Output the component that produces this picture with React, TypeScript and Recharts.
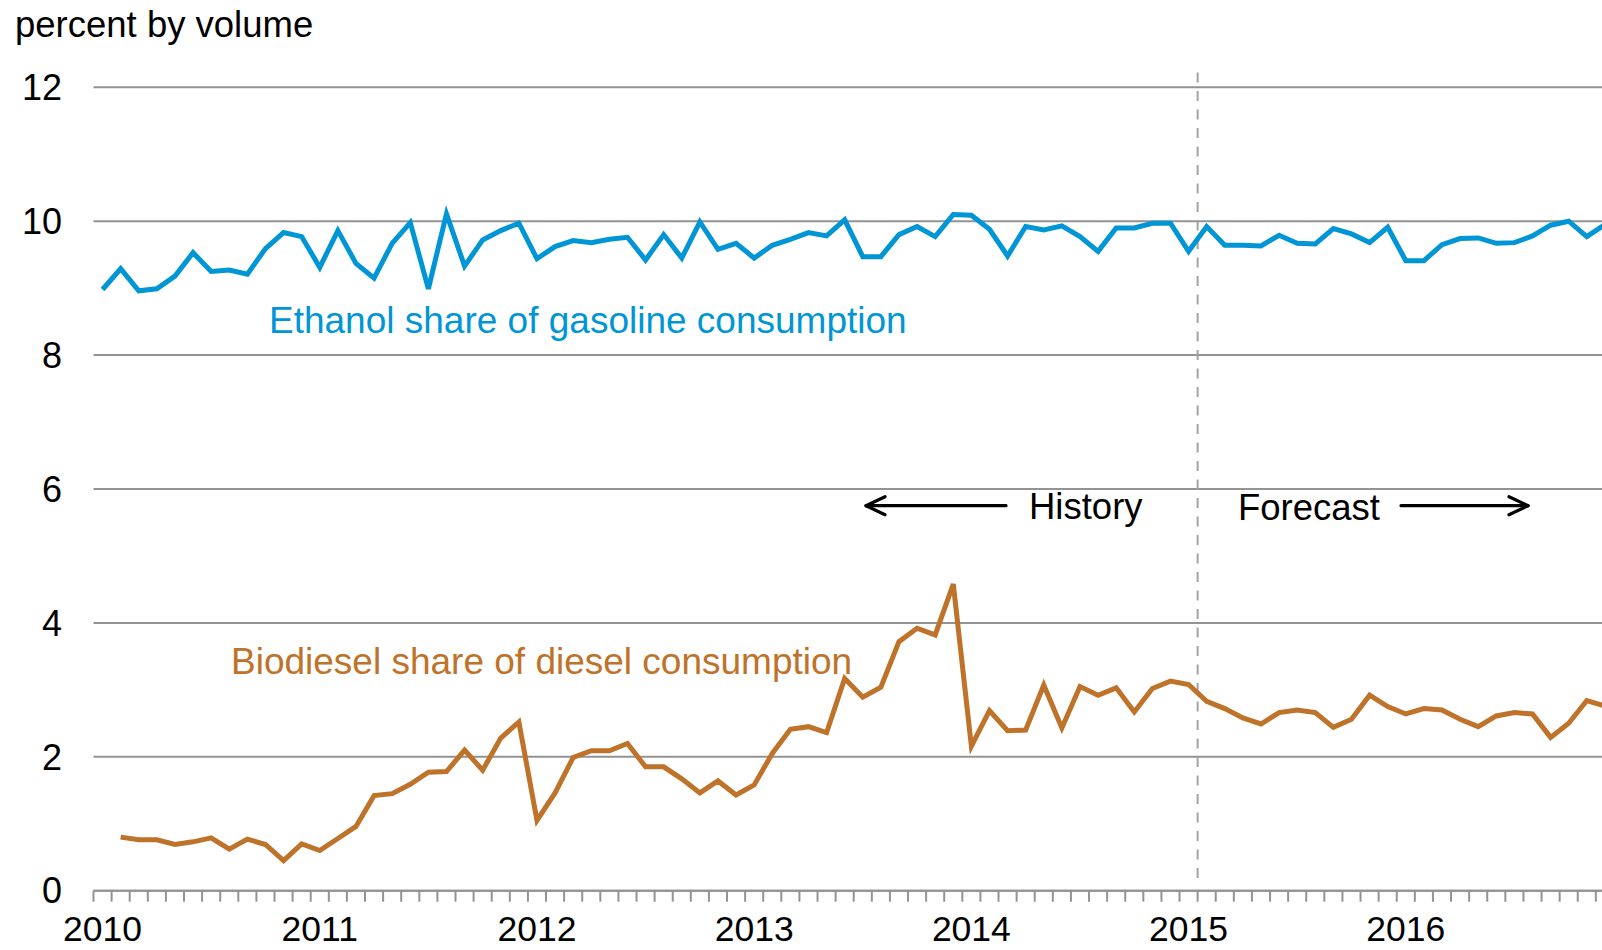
import React from 'react';
import { LineChart, Line, XAxis, YAxis, CartesianGrid, ReferenceLine, Customized } from 'recharts';

const YEARS = [2010, 2011, 2012, 2013, 2014, 2015, 2016];

const ETHANOL = [
  8.98, 9.29, 8.96, 8.99, 9.18, 9.53, 9.25, 9.27, 9.21, 9.59, 9.83, 9.77,
  9.31, 9.86, 9.37, 9.15, 9.67, 9.98, 8.99, 10.11, 9.33, 9.72, 9.86, 9.97,
  9.44, 9.62, 9.71, 9.68, 9.73, 9.76, 9.42, 9.8, 9.45, 9.99, 9.58, 9.67,
  9.45, 9.64, 9.73, 9.83, 9.78, 10.02, 9.47, 9.47, 9.8, 9.92, 9.77, 10.1,
  10.09, 9.88, 9.48, 9.92, 9.87, 9.93, 9.77, 9.55, 9.9, 9.9, 9.97, 9.97,
  9.55, 9.92, 9.64, 9.64, 9.63, 9.79, 9.67, 9.66, 9.89, 9.81, 9.68, 9.91,
  9.41, 9.41, 9.65, 9.74, 9.75, 9.67, 9.68, 9.78, 9.94, 10.0, 9.77, 9.95,
];

const BIODIESEL = [
  null, 0.8, 0.76, 0.76, 0.69, 0.73, 0.79, 0.62, 0.77, 0.69, 0.45, 0.7,
  0.6, 0.78, 0.96, 1.42, 1.45, 1.59, 1.77, 1.78, 2.1, 1.8, 2.28, 2.52,
  1.05, 1.46, 1.99, 2.09, 2.09, 2.2, 1.85, 1.85, 1.67, 1.46, 1.64, 1.43,
  1.58, 2.05, 2.41, 2.45, 2.36, 3.17, 2.89, 3.04, 3.72, 3.92, 3.82, 4.58,
  2.16, 2.69, 2.39, 2.4, 3.07, 2.43, 3.05, 2.92, 3.03, 2.67, 3.02, 3.13,
  3.08, 2.83, 2.72, 2.58, 2.49, 2.66, 2.7, 2.66, 2.44, 2.56, 2.92, 2.75,
  2.64, 2.72, 2.7, 2.56, 2.45, 2.61, 2.66, 2.64, 2.29, 2.5, 2.84, 2.76,
];

const Y_TICKS = [0, 2, 4, 6, 8, 10, 12];
const FORECAST_START = 61; // month boundary where the dashed divider sits

const CHART_W = 1602;
const CHART_H = 950;
const PLOT_LEFT = 93.5;
const PLOT_TOP = 87.3;
const X_AXIS_H = 59.3;
const X_MAX = 83.34;
const MONTH_PX = (CHART_W - PLOT_LEFT) / X_MAX;

const FONT = '"Liberation Sans", Arial, Helvetica, sans-serif';
const BLUE = '#0096D6';
const BROWN = '#BF7229';
const GRID = '#939393';

const X_TICKS = ETHANOL.map((_, i) => i);

const data = ETHANOL.map((v, i) => ({
  x: i + 0.5,
  ethanol: v,
  biodiesel: BIODIESEL[i],
}));

const YearTick = (props: any) => {
  const { x, y, payload } = props;
  const v = payload.value;
  if (v % 12 !== 0) return <g />;
  const year = YEARS[v / 12];
  return (
    <text x={x + MONTH_PX / 2} y={y + 39} textAnchor="middle" fontSize={35.5} fontFamily={FONT} fill="#000">
      {year}
    </text>
  );
};

const Annotations = () => (
  <g fontFamily={FONT}>
    <text x={15} y={37} fontSize={36.5} fill="#000">percent by volume</text>
    <text x={269} y={333} fontSize={37} fill={BLUE}>Ethanol share of gasoline consumption</text>
    <text x={231} y={674} fontSize={37} fill={BROWN}>Biodiesel share of diesel consumption</text>
    <text x={1029} y={518.5} fontSize={36.5} fill="#000">History</text>
    <text x={1238} y={519.5} fontSize={36.5} fill="#000">Forecast</text>
    <g stroke="#000" strokeWidth={3.2} fill="none" strokeLinecap="round" strokeLinejoin="round">
      <line x1={866} y1={505.7} x2={1006} y2={505.7} />
      <polyline points="885,496.7 866,505.7 885,514.7" />
      <line x1={1401} y1={505.7} x2={1528} y2={505.7} />
      <polyline points="1509,496.7 1528,505.7 1509,514.7" />
    </g>
  </g>
);

export default function App() {
  return (
    <div style={{ position: 'absolute', left: 0, top: 0, width: CHART_W, height: CHART_H, background: '#fff' }}>
      <LineChart
        width={CHART_W}
        height={CHART_H}
        data={data}
        margin={{ top: PLOT_TOP, right: 0, bottom: 0, left: 0 }}
      >
        <CartesianGrid vertical={false} stroke={GRID} strokeWidth={2} />
        <XAxis
          type="number"
          dataKey="x"
          domain={[0, X_MAX]}
          allowDataOverflow
          ticks={X_TICKS}
          interval={0}
          height={X_AXIS_H}
          tickSize={11}
          tickMargin={0}
          tickLine={{ stroke: GRID, strokeWidth: 2 }}
          axisLine={{ stroke: GRID, strokeWidth: 2 }}
          tick={(p: any) => <YearTick {...p} />}
        />
        <YAxis
          domain={[0, 12]}
          ticks={Y_TICKS}
          width={PLOT_LEFT}
          axisLine={false}
          tickLine={false}
          tickSize={0}
          tickMargin={31.5}
          tick={{ fill: '#000', fontSize: 36, fontFamily: FONT }}
        />
        <ReferenceLine
          segment={[{ x: FORECAST_START, y: 0.19 }, { x: FORECAST_START, y: 12.29 }]}
          stroke="#a3a3a3"
          strokeWidth={2}
          strokeDasharray="10 8.5"
          ifOverflow="visible"
        />
        <Line
          type="linear"
          dataKey="ethanol"
          stroke={BLUE}
          strokeWidth={5}
          dot={false}
          activeDot={false}
          isAnimationActive={false}
        />
        <Line
          type="linear"
          dataKey="biodiesel"
          stroke={BROWN}
          strokeWidth={5}
          dot={false}
          activeDot={false}
          connectNulls={false}
          isAnimationActive={false}
        />
        <Customized component={Annotations} />
      </LineChart>
    </div>
  );
}
